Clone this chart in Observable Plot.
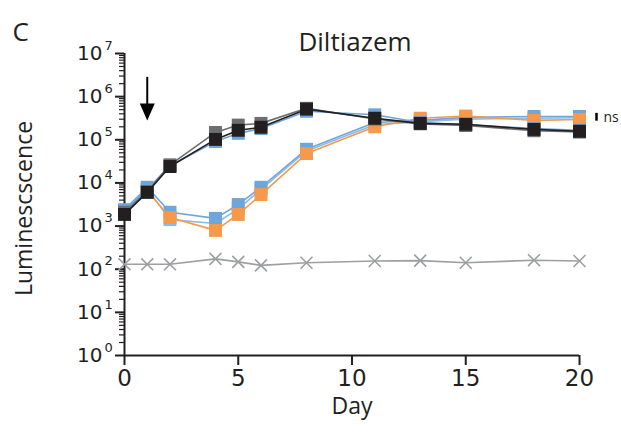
<!DOCTYPE html>
<html><head><meta charset="utf-8">
<script src="https://cdn.jsdelivr.net/npm/d3@7"></script>
<script src="https://cdn.jsdelivr.net/npm/@observablehq/plot@0.6"></script>
<style>body{margin:0;background:#fff} svg{overflow:visible}</style>
</head><body><div id="chart"></div>
<script>
// Days sampled
const days = [0, 1, 2, 4, 5, 6, 8, 11, 13, 15, 18, 20];
// Upper group
const upperBlue = [2240, 7080, 25100, 91200, 141000, 182000, 457000, 380000, 251000, 224000, 182000, 166000];
const upperGray = [2090, 6310, 26300, 148000, 219000, 240000, 537000, 302000, 234000, 214000, 162000, 151000];
const upperBlack = [1860, 6030, 24000, 102000, 166000, 195000, 513000, 316000, 240000, 229000, 174000, 158000];
// Lower group
const lowerBlue2 = [2140, 7240, 1410, 1150, 2510, 7080, 55000, 224000, 263000, 302000, 316000, 324000];
const lowerBlue1 = [2400, 7940, 2090, 1510, 3160, 7940, 60300, 251000, 282000, 331000, 347000, 347000];
const lowerOrange = [2000, 6610, 1580, 794, 1860, 5370, 47900, 200000, 316000, 355000, 282000, 295000];
// Background control
const control = [130, 130, 130, 174, 148, 123, 141, 155, 158, 141, 162, 155];

// Axis ticks
const xTicks = [0, 5, 10, 15, 20];
const yExponents = [0, 1, 2, 3, 4, 5, 6, 7];
const yMajor = yExponents.map(e => 10 ** e);
const yMinor = yExponents.slice(0, -1).flatMap(e => [2,3,4,5,6,7,8,9].map(k => k * 10 ** e));

// Annotations
const arrowDay = [1];
const arrowTop = 2.8e6, arrowBase = 6.0e5, arrowHeadAt = 4.4e5;
const nsDay = 20, nsTop = 4.1e5, nsBottom = 2.7e5, nsLabelAt = 3.3e5;

const series = [
  {name: "lowerBlue2", values: lowerBlue2, color: "#8cbbe6"},
  {name: "lowerBlue1", values: lowerBlue1, color: "#6fa6da"},
  {name: "lowerOrange", values: lowerOrange, color: "#f7994a"},
  {name: "upperBlue", values: upperBlue, color: "#6fa6da"},
  {name: "upperGray", values: upperGray, color: "#6d6e71"},
  {name: "upperBlack", values: upperBlack, color: "#231f20"}
];
const ctrlRows = days.map((d, i) => ({day: d, value: control[i]}));

const arrowHead = {draw(ctx) { ctx.moveTo(-7.5, -8.5); ctx.lineTo(7.5, -8.5); ctx.lineTo(0, 8.5); ctx.closePath(); }};

const seriesMarks = series.flatMap(s => {
  const rows = days.map((d, i) => ({day: d, value: s.values[i]}));
  return [
    Plot.line(rows, {x: "day", y: "value", stroke: s.color, strokeWidth: 1.6}),
    Plot.dot(rows, {x: "day", y: "value", symbol: "square", r: 7.3, fill: s.color, stroke: "none"})
  ];
});

const chart = Plot.plot({
  width: 621, height: 437,
  marginLeft: 124, marginRight: 42, marginTop: 53, marginBottom: 82,
  x: {domain: [0, 20]},
  y: {type: "log", domain: [1, 1e7]},
  style: {fontFamily: "DejaVu Sans, sans-serif", color: "#231f20", background: "#fff"},
  marks: [
    Plot.axisX({ticks: xTicks, tickSize: 10, tickFormat: () => "", strokeWidth: 2, label: null}),
    Plot.axisY({ticks: yMajor, tickSize: 9, tickFormat: () => "", strokeWidth: 2, label: null}),
    Plot.axisY({ticks: yMinor, tickSize: 5, tickFormat: () => "", strokeWidth: 1.2, label: null}),
    Plot.ruleY([1], {strokeWidth: 2, stroke: "#231f20"}),
    Plot.ruleX([0], {strokeWidth: 2, stroke: "#231f20"}),
    // tick labels
    Plot.text(xTicks, {x: d => d, frameAnchor: "bottom", dy: 30, text: d => String(d), fontSize: 23, fontFamily: "DejaVu Sans", fill: "#231f20"}),
    Plot.text(yMajor, {y: d => d, frameAnchor: "left", dx: -22, text: () => "10", textAnchor: "end", fontSize: 20, fontFamily: "DejaVu Sans", fill: "#231f20"}),
    Plot.text(yExponents, {y: e => 10 ** e, frameAnchor: "left", dx: -20, dy: -8, text: e => String(e), textAnchor: "start", fontSize: 13, fontFamily: "DejaVu Sans", fill: "#231f20"}),
    // control
    Plot.line(ctrlRows, {x: "day", y: "value", stroke: "#9d9fa2", strokeWidth: 1.6}),
    Plot.dot(ctrlRows, {x: "day", y: "value", symbol: "times", r: 5.5, stroke: "#9d9fa2", strokeWidth: 1.6}),
    ...seriesMarks,
    // arrow
    Plot.ruleX(arrowDay, {x: d => d, y1: arrowTop, y2: arrowBase, stroke: "#000", strokeWidth: 2}),
    Plot.dot(arrowDay, {x: d => d, y: arrowHeadAt, symbol: arrowHead, fill: "#000", stroke: "none"}),
    // ns
    Plot.ruleX([nsDay], {x: d => d, y1: nsTop, y2: nsBottom, dx: 17, stroke: "#000", strokeWidth: 2.5}),
    Plot.text(["ns"], {x: nsDay, y: nsLabelAt, dx: 24, textAnchor: "start", fontSize: 14, fontFamily: "Open Sans", fill: "#231f20"}),
    // titles
    Plot.text(["Diltiazem"], {frameAnchor: "top", dx: 3, dy: -21, textAnchor: "middle", fontSize: 26, fontFamily: "Open Sans", fill: "#231f20"}),
    Plot.text(["C"], {frameAnchor: "top-left", dx: -112, dy: -31, textAnchor: "start", fontSize: 26, fontFamily: "Open Sans", fill: "#231f20"}),
    Plot.text(["Luminescscence"], {frameAnchor: "left", dx: -100, dy: 4, rotate: -90, textAnchor: "middle", lineAnchor: "middle", fontSize: 23, fontFamily: "Open Sans", fill: "#231f20"}),
    Plot.text(["Day"], {frameAnchor: "bottom", dy: 58, textAnchor: "middle", fontSize: 23, fontFamily: "Open Sans", fill: "#231f20"})
  ]
});
document.getElementById("chart").appendChild(chart);
</script>
</body></html>
